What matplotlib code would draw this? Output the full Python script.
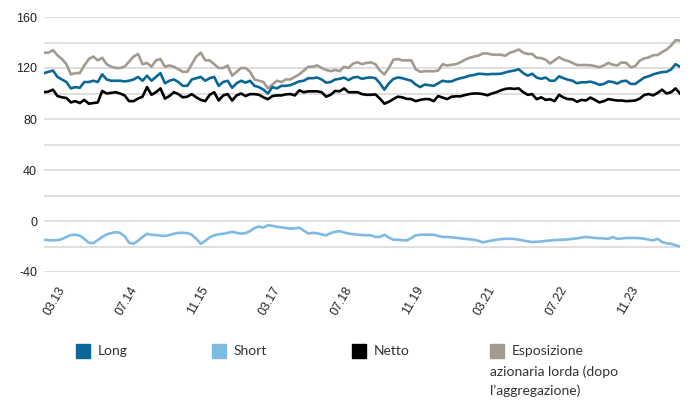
"""Long / short / net / gross equity exposure, monthly line chart."""

import matplotlib

matplotlib.use("Agg")

import matplotlib.pyplot as plt
import numpy as np
import pandas as pd
from matplotlib.patches import Rectangle
from matplotlib.ticker import MultipleLocator

# monthly observations, Dec 2012 .. Oct 2024
months = pd.date_range("2012-12-01", periods=143, freq="MS")

long_exp = [
    116, 117, 118, 113, 111, 109, 104, 105, 104.5, 109, 109, 110, 109, 115, 111, 110,
    110, 110, 109.5, 110, 111, 113, 110, 114, 110, 113, 116, 108, 110, 111, 109, 106,
    106, 111, 112, 113, 110, 112, 113, 106, 109, 110, 104.5, 108, 110, 108.5, 110, 106,
    105, 103, 100, 105, 104, 106, 106, 106.5, 108, 109.5, 110, 112, 112, 112.5, 111, 108.5,
    109, 111, 111.5, 112.5, 110.5, 112.5, 113, 111.5, 112.3, 112.6, 112, 108, 103, 108, 111.4, 112.6,
    112, 111, 110, 107, 105, 107, 106.5, 106, 108, 110, 109.3, 109.5, 111, 112, 112.8, 114,
    114.5, 115.5, 115.3, 115, 115.3, 115.3, 115.5, 116.5, 117.4, 118, 119, 116, 114, 115.5, 112.5, 111.5,
    112.5, 110, 110, 113.5, 112, 110.8, 110, 108, 108.8, 108.8, 109.3, 108.3, 106.8, 107.5, 109.5, 109,
    107.8, 109.6, 110, 107.5, 107.5, 110, 112.5, 113.5, 115, 116, 116.8, 117, 118.8, 123, 121,
]

short_exp = [
    -14.7, -15, -15.2, -15, -14.2, -12.5, -11, -10.8, -11.5, -14, -17, -17.3, -15, -12.5, -10.5, -9.5,
    -8.8, -9.3, -12, -17, -17.8, -15.5, -12.5, -10, -10.8, -11, -11.5, -11.8, -11, -10, -9.3, -9.3,
    -9.5, -10.8, -14, -17.9, -15.5, -12.8, -11.2, -10.5, -10, -9.3, -8.5, -9.2, -9.9, -9.5, -8, -5.5,
    -4.3, -5.2, -3.3, -3.8, -4.5, -5, -5.5, -6, -5.8, -5.3, -7.5, -9.8, -9.3, -9.6, -10.5, -11.2,
    -9.5, -8.5, -8, -9, -9.9, -10.3, -10.7, -11, -11.2, -11.2, -12.5, -12.5, -10.8, -13, -14.7, -14.7,
    -15, -15.2, -13.3, -11.3, -10.8, -10.7, -10.7, -10.8, -11.7, -12.5, -12.5, -12.8, -13.2, -13.6, -14, -14.3,
    -14.8, -15.5, -16.8, -16, -15.3, -14.7, -14.3, -13.9, -14, -14.1, -14.7, -15.3, -15.9, -16.5, -16.3, -16,
    -15.6, -15.3, -15, -14.8, -14.7, -14.4, -14, -13.6, -13, -12.5, -12.9, -13.3, -13.5, -13.7, -13.9, -12.6,
    -14, -13.7, -13.3, -13.3, -13.3, -13.5, -13.9, -14.6, -15.2, -14, -16.5, -17.5, -17.9, -19, -20,
]

net_exp = [
    101, 101.5, 103, 98, 97, 96.5, 93, 94, 92.5, 95, 92, 92.5, 93, 102, 100, 100.5,
    101, 100, 98.5, 94, 94, 96, 97.5, 105, 99, 101, 104, 96, 98, 101, 99.5, 97,
    97.5, 99.5, 97, 95, 94, 99, 101, 94.5, 98.5, 99.5, 94.5, 98.5, 100, 98, 99.5, 99.5,
    99, 97, 95.5, 98, 98.5, 98.5, 99.3, 99.6, 98.5, 102.5, 101, 101.7, 101.7, 101.7, 101, 97.5,
    99, 102, 101.7, 104, 101, 101, 101, 99.5, 99, 99, 99.3, 96, 92, 93.5, 95.6, 97.5,
    97, 95.8, 95.6, 94, 95, 95.6, 95.6, 94, 98, 96.8, 95.6, 97.5, 97.8, 97.8, 98.8, 99.6,
    100, 100, 99.5, 98.6, 100, 101, 102.5, 103.6, 104, 103.6, 104, 101, 99, 99.5, 95.5, 97,
    95, 95.5, 94, 99, 96.8, 95.6, 95.5, 93.5, 95, 94.5, 96.8, 95, 93, 94, 95.6, 95,
    94.5, 94.5, 94, 94.2, 94.5, 96, 98.8, 99.6, 98.5, 100.5, 103, 100, 101, 104, 100,
]

gross_exp = [
    132, 132, 134, 130, 127, 123, 115, 116, 116, 122, 127, 129, 126, 128, 123, 121,
    120, 120, 121, 125, 129, 131, 123, 124, 121, 126, 127, 121, 122, 121, 119, 117,
    117, 123, 129, 132, 126, 126, 123, 120, 120, 122, 114, 117, 120, 120, 117, 111,
    110, 109, 104, 107, 110, 109, 111, 111, 113, 115, 118, 121, 121, 122, 120, 118.5,
    117.5, 118.5, 117.5, 121, 120, 123.5, 124.5, 123, 124, 124.4, 123, 118, 115, 120, 126.5, 127,
    126, 126, 126, 119, 117, 117.5, 117.5, 117.4, 118, 123, 122, 122.5, 123, 124.5, 126.5, 128,
    129, 129.7, 131.4, 131.4, 130.5, 130.4, 130.4, 129.6, 132, 133, 134.5, 132, 131, 131, 128, 127.8,
    126.5, 123.5, 126, 128.5, 126.5, 125.5, 124, 122.3, 122.3, 122.3, 122.2, 121.5, 120.6, 122, 124, 122.5,
    122, 124.4, 124, 120.5, 121.5, 125.7, 127.5, 128.3, 130, 130.2, 132.5, 134.5, 137.5, 141.8, 141.5,
]

labels = ["Long", "Short", "Netto", "Esposizione azionaria lorda (dopo l\u2019aggregazione)"]
colors = ["#0a6796", "#7dbbe2", "#000000", "#a39a90"]
tick_labels = ["03.13", "07.14", "11.15", "03.17", "07.18", "11.19", "03.21", "07.22", "11.23"]

x = np.arange(len(months))
month_keys = list(months.strftime("%m.%y"))
tick_pos = [month_keys.index(t) for t in tick_labels]

fig = plt.figure(figsize=(6.93, 4.01), dpi=100)
ax = fig.add_axes([44 / 693, 1 - 272 / 401, (680 - 44) / 693, (272 - 17) / 401])

# draw order: gross, long, net on top, short
ax.plot(x, gross_exp, color=colors[3], lw=1.9)
ax.plot(x, long_exp, color=colors[0], lw=1.9)
ax.plot(x, net_exp, color=colors[2], lw=1.9)
ax.plot(x, short_exp, color=colors[1], lw=1.9)

ax.set_xlim(0, len(x) - 1)
ax.set_ylim(-40, 160)
ax.yaxis.set_major_locator(MultipleLocator(40))
ax.yaxis.set_minor_locator(MultipleLocator(20))
ax.grid(True, axis="y", which="both", color="#d9d9d9", lw=1.2)
ax.set_axisbelow(True)
for s in ax.spines.values():
    s.set_visible(False)
ax.tick_params(axis="both", which="both", length=0)
ax.tick_params(axis="y", labelsize=9, labelcolor="#222222", pad=5)
ax.set_yticks([-40, 0, 40, 80, 120, 160], ["-40", "0", "40", "80", "120", "160"])

ax.set_xticks(tick_pos)
ax.set_xticklabels(tick_labels, rotation=60, ha="right", va="top",
                   rotation_mode="anchor", fontsize=9, color="#222222")
ax.tick_params(axis="x", pad=9)
for t in ax.get_yticklabels() + ax.get_xticklabels():
    t.set_family("Liberation Sans")

# legend laid out like the original: swatch + text, last entry wraps under its swatch
W, H = 693, 401
swatch_x = [76, 212, 352, 490]
row_y = 351
legend_font = dict(fontsize=10, color="#333333", va="center", family="Lato")
for sx, col, lab in zip(swatch_x, colors, labels):
    fig.patches.append(Rectangle((sx / W, 1 - (row_y + 7) / H), 14 / W, 14 / H,
                                 transform=fig.transFigure, color=col))
    if lab.startswith("Esposizione"):
        fig.text((sx + 22) / W, 1 - row_y / H, "Esposizione", **legend_font)
        fig.text(sx / W, 1 - (row_y + 21) / H, "azionaria lorda (dopo", **legend_font)
        fig.text(sx / W, 1 - (row_y + 40) / H, "l\u2019aggregazione)", **legend_font)
    else:
        fig.text((sx + 22) / W, 1 - row_y / H, lab, **legend_font)

fig.savefig("out.png", dpi=100)
plt.close(fig)
